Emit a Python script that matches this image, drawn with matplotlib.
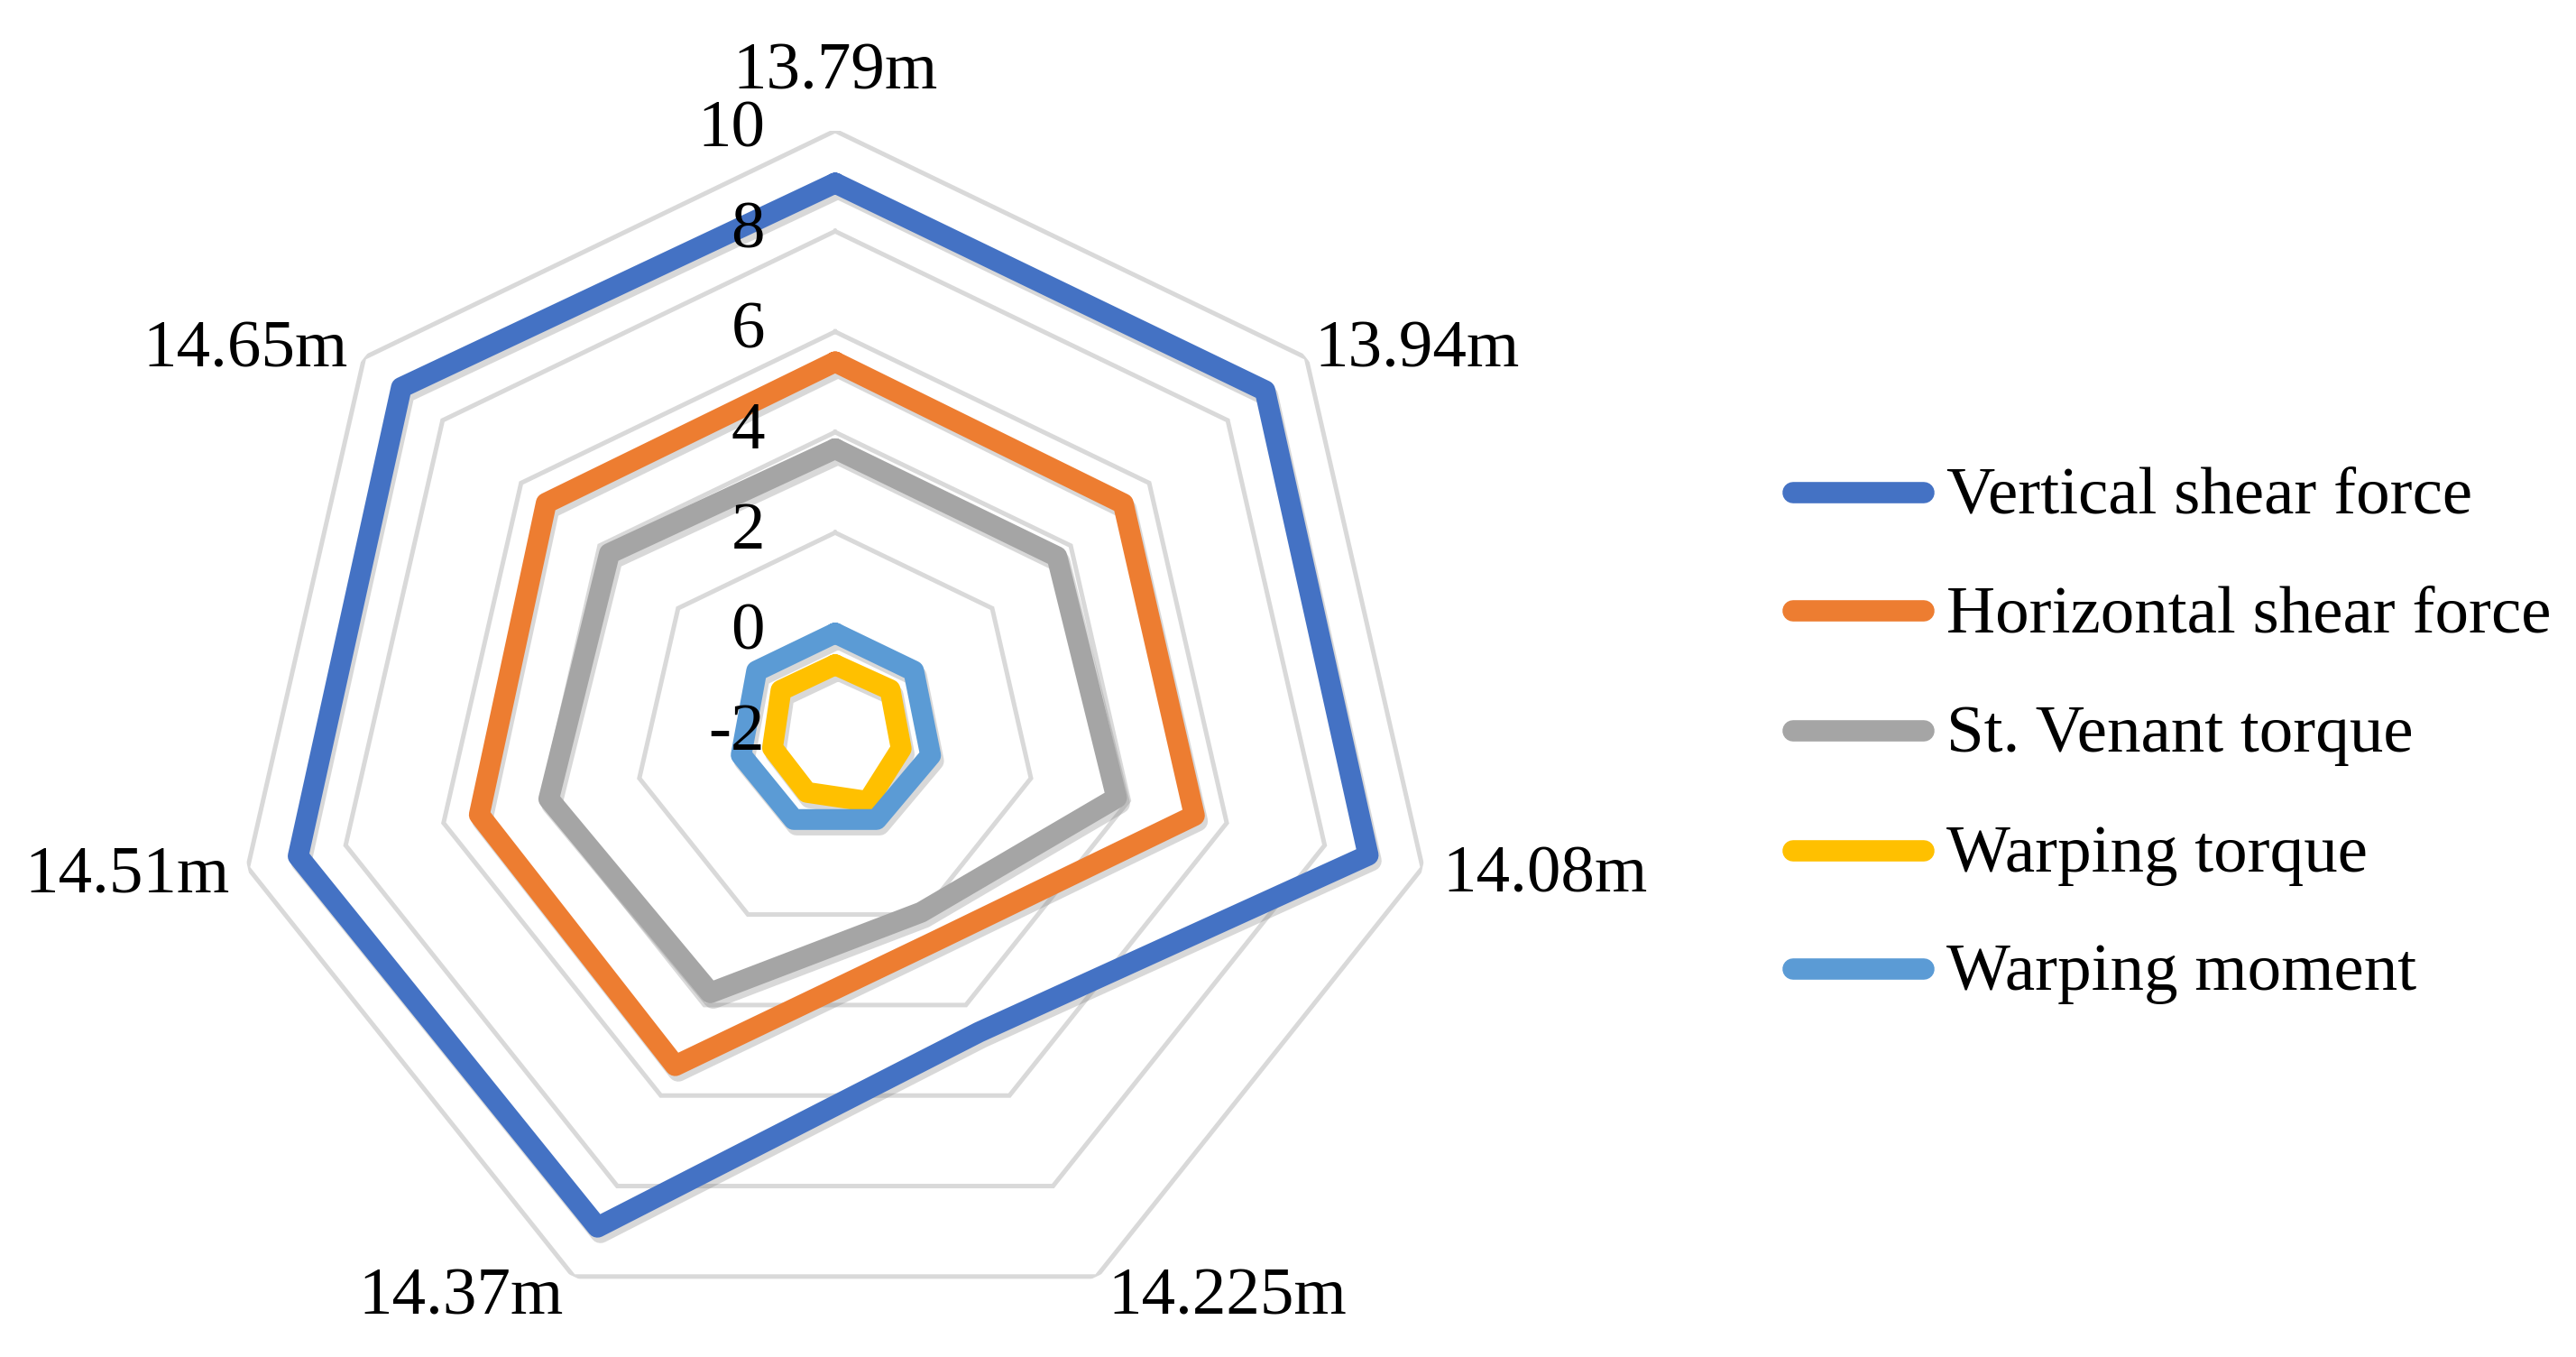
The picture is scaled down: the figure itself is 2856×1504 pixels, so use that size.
import numpy as np
import matplotlib
matplotlib.use("Agg")
import matplotlib.pyplot as plt
from matplotlib import patheffects
from matplotlib.lines import Line2D
from matplotlib.transforms import offset_copy

plt.rcParams['font.family'] = ['Liberation Serif', 'DejaVu Serif']

# --------------------------- DATA ------------------------------#

positions = ["13.79m", "13.94m", "14.08m", "14.225m", "14.37m", "14.51m", "14.65m"]
series_names = ["Vertical shear force", "Horizontal shear force", "St. Venant torque",
                "Warping torque", "Warping moment"]

vertical_shear = [8.96, 8.95, 8.89, 4.6, 8.91, 8.97, 9.05]
horizontal_shear = [5.4, 5.34, 5.34, 2.59, 5.34, 5.27, 5.36]
st_venant = [3.67, 3.65, 3.75, 1.95, 3.73, 3.85, 3.75]
warping_torque = [-0.63, -0.6, -0.65, -0.5, -0.7, -0.72, -0.62]
warping_moment = [0.0, 0.0, -0.05, -0.1, -0.1, -0.08, 0.0]

r_ticks = [-2, 0, 2, 4, 6, 8, 10]

colors = ["#4472C4", "#ED7D31", "#A5A5A5", "#FFC000", "#5B9BD5"]

# --------------------------- PLOT ------------------------------#

DPI = 200
FS = 27
fig = plt.figure(figsize=(2856 / DPI, 1504 / DPI), dpi=DPI)
ax = fig.add_axes([0.0903, 0.0153, 0.4678, 0.8883], projection='polar')
ax.set_theta_offset(np.pi / 2)
ax.set_theta_direction(-1)
ax.set_ylim(-2, 10)
ax.set_xticks([])
ax.set_yticks([])
ax.grid(False)
ax.spines['polar'].set_visible(False)
ax.patch.set_visible(False)

n = len(positions)
theta = np.linspace(0, 2 * np.pi, n, endpoint=False)
theta_closed = np.append(theta, theta[0])


def closed(vals):
    return np.append(vals, vals[0])


# polygon grid rings
for r in r_ticks:
    ax.plot(theta_closed, closed([r] * n), color="#D9D9D9", lw=1.8, zorder=1,
            solid_joinstyle='miter')

shadow = [patheffects.SimpleLineShadow(offset=(1.2, -2.2), shadow_color='#7f7f7f', alpha=0.3),
          patheffects.Normal()]

all_series = [vertical_shear, horizontal_shear, st_venant, warping_torque, warping_moment]
for i, vals in enumerate(all_series):
    ax.plot(theta_closed, closed(vals), color=colors[i], lw=8.3, zorder=3 + i,
            solid_joinstyle='round', solid_capstyle='round', path_effects=shadow)

# radial tick labels, left of the top spoke
tick_tr = offset_copy(ax.transData, fig=fig, x=-78, y=0, units='dots')
for r in r_ticks:
    ax.text(0, r, str(r), transform=tick_tr, ha='right', va='center', fontsize=FS, zorder=10)

# category labels around the outer ring (offsets in pixels)
label_offsets = [(0, 46, 'center'), (9, -10, 'left'), (22, -27, 'left'), (13, -42, 'left'),
                 (-11, -42, 'right'), (-20, -27, 'right'), (-18, -10, 'right')]
for k, name in enumerate(positions):
    dx, dy, ha = label_offsets[k]
    tr = offset_copy(ax.transData, fig=fig, x=dx, y=dy, units='dots')
    ax.text(theta[k], 10, name, transform=tr, ha=ha, va='baseline', fontsize=FS, zorder=10)

# legend, drawn by hand to follow the original placement
W, H = 2856, 1504
row_y = [546, 677, 810, 943, 1074]
for i, name in enumerate(series_names):
    y = 1 - row_y[i] / H
    fig.add_artist(Line2D([1988 / W, 2133 / W], [y, y], transform=fig.transFigure,
                          color=colors[i], lw=8.5, solid_capstyle='round'))
    fig.text(2158 / W, 1 - (row_y[i] + 23) / H, name, ha='left', va='baseline', fontsize=FS)

fig.savefig("out.png", dpi=DPI)
